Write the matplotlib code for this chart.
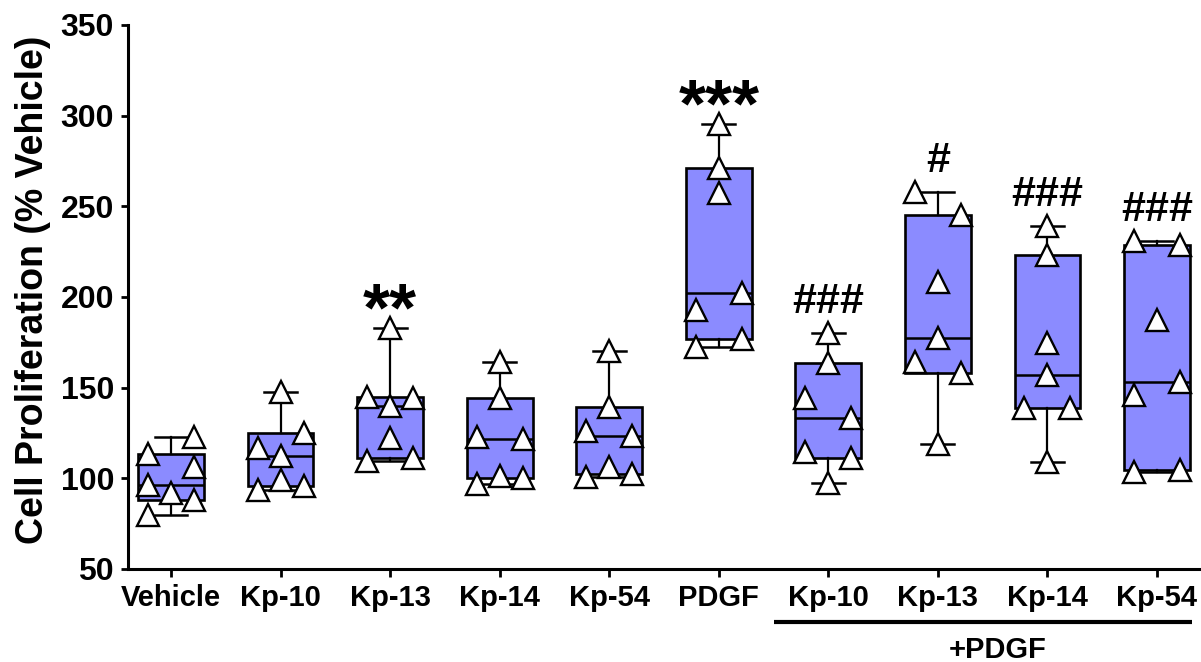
import numpy as np
import matplotlib.pyplot as plt
from matplotlib.transforms import blended_transform_factory

plt.rcParams["font.family"] = ["Liberation Sans", "DejaVu Sans"]
plt.rcParams["font.weight"] = "bold"

# group names along the x axis (last four are co-treated with PDGF)
groups = ["Vehicle", "Kp-10", "Kp-13", "Kp-14", "Kp-54",
          "PDGF", "Kp-10", "Kp-13", "Kp-14", "Kp-54"]

# cell proliferation, % of vehicle, n = 7 per group
vehicle = [113.4, 122.8, 96.3, 106.0, 79.8, 92.0, 88.0]
kp10 = [147.6, 117.0, 112.3, 125.0, 93.6, 99.0, 95.8]
kp13 = [183.0, 145.0, 140.0, 144.5, 109.5, 122.0, 111.0]
kp14 = [164.2, 144.3, 123.0, 121.7, 97.0, 101.5, 100.0]
kp54 = [170.2, 139.4, 126.3, 123.4, 101.0, 106.3, 102.4]
pdgf = [295.4, 271.2, 257.4, 193.0, 202.0, 172.4, 176.9]
kp10_pdgf = [180.0, 163.6, 144.3, 133.3, 114.5, 111.2, 97.4]
kp13_pdgf = [258.0, 245.2, 208.3, 177.4, 164.2, 158.0, 119.0]
kp14_pdgf = [239.0, 223.2, 174.6, 157.0, 138.8, 138.8, 109.0]
kp54_pdgf = [231.0, 228.7, 187.3, 146.0, 153.0, 103.5, 104.6]

data = [vehicle, kp10, kp13, kp14, kp54,
        pdgf, kp10_pdgf, kp13_pdgf, kp14_pdgf, kp54_pdgf]

# significance vs vehicle (*) and vs PDGF (#)
sig = ["", "", "**", "", "", "***", "###", "#", "###", "###"]


def row_offsets(values, gap=13.0, step=0.21):
    """Spread points that sit close together into rows of up to 3."""
    order = sorted(range(len(values)), key=lambda i: -values[i])
    rows, row = [], []
    for i in order:
        if row and values[row[0]] - values[i] < gap and len(row) < 3:
            row.append(i)
        else:
            if row:
                rows.append(row)
            row = [i]
    rows.append(row)
    offsets = np.zeros(len(values))
    for row in rows:
        row = sorted(row)
        if len(row) > 1:
            offsets[row] = np.linspace(-step, step, len(row))
    return offsets


def box_stats(values):
    v = np.asarray(values)
    q1, med, q3 = np.percentile(v, [25, 50, 75], method="weibull")
    return {"med": med, "q1": q1, "q3": q3,
            "whislo": v.min(), "whishi": v.max(), "fliers": []}


fig = plt.figure(figsize=(12.01, 6.62), dpi=100)
ax = fig.add_axes([128 / 1201, 1 - 569 / 662, 1072 / 1201, 544 / 662])

positions = np.arange(len(groups))
ax.bxp([box_stats(d) for d in data], positions=positions, widths=0.6,
       patch_artist=True, showfliers=False, capwidths=0.3,
       boxprops=dict(facecolor="#8b8bff", edgecolor="black", linewidth=1.9),
       medianprops=dict(color="black", linewidth=1.8),
       whiskerprops=dict(color="black", linewidth=1.6),
       capprops=dict(color="black", linewidth=1.8))

for pos, vals in zip(positions, data):
    xs = pos + row_offsets(vals)
    ax.plot(xs, vals, linestyle="none", marker="^", markersize=16,
            markerfacecolor="white", markeredgecolor="black",
            markeredgewidth=1.7, zorder=5)

for pos, vals, label in zip(positions, data, sig):
    if not label:
        continue
    if "#" in label:
        ax.text(pos, max(vals) + 11.0, label, ha="center", va="baseline",
                fontsize=31, fontweight="bold")
    else:
        ax.text(pos, max(vals) - 1.5, label, ha="center", va="baseline",
                fontsize=50, fontweight="bold")

ax.set_xlim(-0.393, 9.393)
ax.set_ylim(50, 350)
ax.set_yticks(np.arange(50, 351, 50))
ax.set_xticks(positions)
ax.set_xticklabels(groups)
ax.tick_params(axis="y", labelsize=23, length=5, width=2, pad=5)
ax.tick_params(axis="x", labelsize=21, length=6, width=2, pad=5)
for lab in ax.get_xticklabels() + ax.get_yticklabels():
    lab.set_fontweight("bold")

ax.spines["top"].set_visible(False)
ax.spines["right"].set_visible(False)
ax.spines["left"].set_linewidth(2.2)
ax.spines["bottom"].set_linewidth(2.2)

ax.set_ylabel("Cell Proliferation (% Vehicle)", fontsize=27, fontweight="bold")
ax.yaxis.set_label_coords(-0.072, 0.513)

# bracket under the PDGF co-treatment groups
trans = blended_transform_factory(ax.transData, ax.transAxes)
ax.plot([5.5, 9.32], [-0.0974, -0.0974], transform=trans, color="black",
        linewidth=3, solid_capstyle="butt", clip_on=False)
ax.text(7.55, -0.149, "+PDGF", transform=trans, ha="center", va="center",
        fontsize=21, fontweight="bold")

fig.savefig("out.png", dpi=100)
